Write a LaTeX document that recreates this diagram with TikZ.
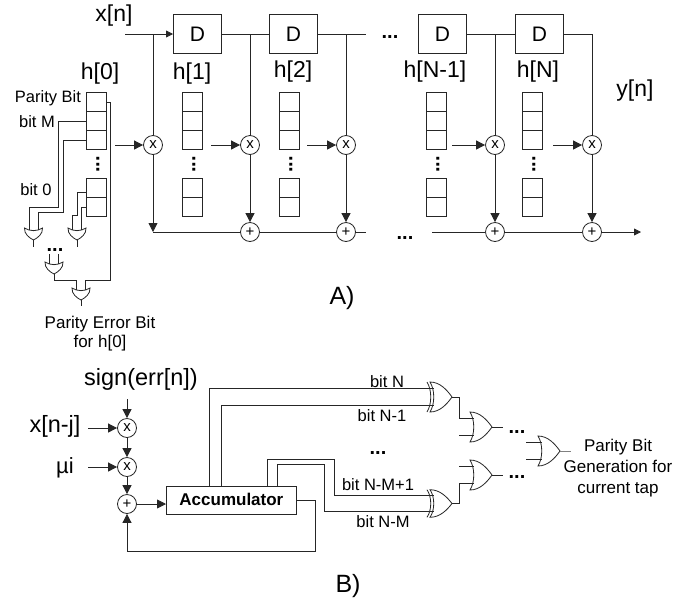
\documentclass[tikz,border=0pt]{standalone}
\usepackage{fontspec}
\setmainfont{Liberation Sans}
\usetikzlibrary{arrows.meta,calc}
\definecolor{ink}{gray}{0.15}
\newcommand{\fs}[1]{\fontsize{#1}{#1}\selectfont}
\tikzset{
  wire/.style={draw=ink,line width=0.8pt},
  arrowwire/.style={wire,-{Triangle[length=9pt,width=9pt]}},
  smallarrow/.style={wire,-{Triangle[length=7pt,width=7pt]}},
  delaybox/.style={draw=ink,line width=0.8pt,minimum width=48pt,minimum height=39pt,inner sep=0pt,font=\fs{21}},
  cell/.style={draw=ink,line width=0.8pt,minimum width=20pt,minimum height=19pt,inner sep=0pt},
  opnode/.style={draw=ink,line width=0.8pt,circle,minimum size=19pt,inner sep=0pt,font=\fs{15},fill=white},
  big/.style={inner sep=0pt,font=\fs{23}},
  mid/.style={inner sep=0pt,font=\fs{16.5}},
  midwide/.style={inner sep=0pt,font=\fs{17}},
  gate/.style={draw=ink,line width=0.8pt,fill=white},
  dotsmark/.style={inner sep=0pt,font=\fs{20}\bfseries},
}
% register: name, left x
\newcommand{\register}[2]{%
  \node[cell,anchor=north west] (#1-1) at (#2,92) {};
  \node[cell,anchor=north west] (#1-2) at (#2,111) {};
  \node[cell,anchor=north west] (#1-3) at (#2,130) {};
  \node[cell,anchor=north west] (#1-4) at (#2,178) {};
  \node[cell,anchor=north west] (#1-5) at (#2,197) {};
  \node[dotsmark,rotate=90] (#1-dots) at ($(#2,164.5)+(12,0)$) {...};
}
% OR gate pointing down: name, centre x, top y
\newcommand{\ordown}[3]{%
  \begin{scope}[shift={(#2,#3)}]
    \draw[gate] (-9,0) .. controls (-9.5,6) and (-4,10) .. (0,12) .. controls (4,10) and (9.5,6) .. (9,0) .. controls (4,3.5) and (-4,3.5) .. (-9,0) -- cycle;
    \coordinate (#1-a) at (-4.5,2.2);
    \coordinate (#1-b) at (4.5,2.2);
    \coordinate (#1-o) at (0,12);
  \end{scope}}
% OR gate pointing right: name, left x, centre y, yscale
\newcommand{\orright}[4]{%
  \begin{scope}[shift={(#2,#3)},yscale=#4]
    \draw[gate] (0,-15) .. controls (10,-15) and (17,-7) .. (22,0) .. controls (17,7) and (10,15) .. (0,15) .. controls (5,7) and (5,-7) .. (0,-15) -- cycle;
    \coordinate (#1-a) at (3.5,-8.5);
    \coordinate (#1-b) at (3.5,8.5);
    \coordinate (#1-o) at (22,0);
  \end{scope}}
\newcommand{\xorright}[4]{%
  \orright{#1}{#2}{#3}{#4}
  \begin{scope}[shift={(#2,#3)},yscale=#4]
    \draw[wire] (-3,-15) .. controls (2,-7) and (2,7) .. (-3,15);
  \end{scope}}
\begin{document}
\begin{tikzpicture}[x=1pt,y=-1pt]
\useasboundingbox (0,0) rectangle (695,600);
% ---- part A
\node[big] (xn) at (114,16) {x[n]};
\coordinate (xstart) at (125,34);
\node[delaybox,anchor=north west] (d1) at (173,14) {D};
\node[delaybox,anchor=north west] (d2) at (269,14) {D};
\node[delaybox,anchor=north west] (d3) at (418,14) {D};
\node[delaybox,anchor=north west] (d4) at (515,14) {D};
\node[dotsmark] (dtop) at (390,37) {...};
\node[dotsmark] (dbot) at (405,238) {...};
\coordinate (d2out) at (366,34);
\coordinate (sumin) at (432,232);
\coordinate (corner) at (592,34);
\coordinate (sumout) at (641,232);
\coordinate (sumstart) at (153,232);
\node[opnode] (m0) at (153,145) {x};
\node[opnode] (m1) at (250,145) {x};
\node[opnode] (m2) at (346,145) {x};
\node[opnode] (m3) at (495,145) {x};
\node[opnode] (m4) at (592,145) {x};
\node[opnode] (a1) at (250,232) {+};
\node[opnode] (a2) at (346,232) {+};
\node[opnode] (a3) at (495,232) {+};
\node[opnode] (a4) at (592,232) {+};
\coordinate (sumend) at (366,232);
\draw[smallarrow] (xstart) -- (d1.west |- xstart);
\draw[wire] (d1.east |- xstart) -- (d2.west |- xstart);
\draw[wire] (d2.east |- xstart) -- (d2out);
\draw[wire] (d3.east |- xstart) -- (d4.west |- xstart);
\draw[wire] (d4.east |- xstart) -- (corner) -- (m4.north);
\draw[wire] (m0.north |- xstart) -- (m0.north);
\draw[wire] (m1.north |- xstart) -- (m1.north);
\draw[wire] (m2.north |- xstart) -- (m2.north);
\draw[wire] (m3.north |- xstart) -- (m3.north);
\draw[arrowwire] (m0.south) -- (sumstart);
\draw[arrowwire] (m1.south) -- (a1.north);
\draw[arrowwire] (m2.south) -- (a2.north);
\draw[arrowwire] (m3.south) -- (a3.north);
\draw[arrowwire] (m4.south) -- (a4.north);
\draw[wire] (sumstart) -- (a1.west);
\draw[wire] (a1.east) -- (a2.west);
\draw[wire] (a2.east) -- (sumend);
\draw[wire] (sumin) -- (a3.west);
\draw[wire] (a3.east) -- (a4.west);
\draw[smallarrow] (a4.east) -- (sumout);
% registers
\register{r0}{86}
\register{r1}{182}
\register{r2}{279}
\register{r3}{426}
\register{r4}{522}
\node[big] (h0) at (100,74) {h[0]};
\node[big] (h1) at (192,74) {h[1]};
\node[big] (h2) at (293,72) {h[2]};
\node[big] (h3) at (435,72) {h[N-1]};
\node[big] (h4) at (538,72) {h[N]};
\node[big] (yn) at (635,91) {y[n]};
\coordinate (s0) at (115,145);
\coordinate (s1) at (211,145);
\coordinate (s2) at (307,145);
\coordinate (s3) at (452,145);
\coordinate (s4) at (553,145);
\draw[arrowwire] (s0) -- (m0.west);
\draw[arrowwire] (s1) -- (m1.west);
\draw[arrowwire] (s2) -- (m2.west);
\draw[arrowwire] (s3) -- (m3.west);
\draw[arrowwire] (s4) -- (m4.west);
% parity tree for h[0]
\node[mid] (pb) at (48,98) {Parity Bit};
\node[mid] (bm) at (37,122) {bit M};
\node[mid] (b0) at (36,190) {bit 0};
\ordown{g1}{33.5}{228}
\ordown{g2}{77}{228}
\ordown{g3}{54}{262}
\ordown{g4}{81}{288}
\node[dotsmark] (gd) at (55,250) {...};
\coordinate (c1a) at (58,207);
\coordinate (c1b) at (63,212);
\coordinate (c2a) at (77,215);
\coordinate (p1) at (110,280);
\coordinate (j1) at (54,280);
\coordinate (t1) at (49,254);
\coordinate (t2) at (58,254);
\coordinate (g1s) at (33.5,247);
\coordinate (g2s) at (77,247);
\coordinate (g4s) at (81,306);
\draw[wire] (r0-2.west) -| (c1a) -| (g1-a);
\draw[wire] (r0-3.west) -| (c1b) -| (g1-b);
\draw[wire] ([yshift=-4.5pt]r0-4.west) -| (c2a) -| (g2-a);
\draw[wire] (r0-5.west) -| (g2-b);
\draw[wire] (g1-o) -- (g1s);
\draw[wire] (g2-o) -- (g2s);
\draw[wire] (t1) -- (t1 |- g3-a);
\draw[wire] (t2) -- (t2 |- g3-b);
\draw[wire] (g3-o) -- (j1) -| (g4-a);
\draw[wire] (r0-1.east) -| (p1) -| (g4-b);
\draw[wire] (g4-o) -- (g4s);
\node[midwide,align=center] (perr) at (100,333.5) {Parity Error Bit\\[2pt]for h[0]};
\node[inner sep=0pt,font=\fs{25}] (la) at (342,298) {A)};
% ---- part B
\node[inner sep=0pt,font=\fs{23.5}] (sgn) at (141,379) {sign(err[n])};
\node[inner sep=0pt,font=\fs{23.5}] (xj) at (55,426) {x[n-j]};
\node[inner sep=0pt,font=\fs{22}] (mu) at (65,468) {µi};
\node[opnode] (bm1) at (127,428) {x};
\node[opnode] (bm2) at (127,467) {x};
\node[opnode] (ba) at (127,504) {+};
\node[draw=ink,line width=0.8pt,minimum width=130pt,minimum height=28pt,inner sep=0pt,anchor=north west,font=\fs{17}\bfseries] (acc) at (166,486) {\raisebox{2pt}{Accumulator}};
\coordinate (sg) at (127,399);
\coordinate (xa) at (88,428);
\coordinate (ma) at (88,467);
\coordinate (fb1) at (315,551);
\coordinate (fb2) at (127,551);
\draw[arrowwire] (sg) -- (bm1.north);
\draw[arrowwire] (xa) -- (bm1.west);
\draw[arrowwire] (ma) -- (bm2.west);
\draw[arrowwire] (bm1.south) -- (bm2.north);
\draw[arrowwire] (bm2.south) -- (ba.north);
\draw[arrowwire] (ba.east) -- (acc.west |- ba.east);
\draw[arrowwire] (acc.east) -| (fb1) -- (fb2) -- (ba.south);
\xorright{x1}{430}{397}{1}
\xorright{x2}{430}{503.5}{0.92}
\orright{o1}{470}{427}{1}
\orright{o2}{470}{475}{1}
\orright{o3}{538}{451}{1}
\coordinate (w1) at (334,459);
\coordinate (w2) at (324,464);
\draw[wire] ([xshift=-22pt]acc.north) |- (x1-a);
\draw[wire] ([xshift=-10pt]acc.north) |- (x1-b);
\draw[wire] ([xshift=36pt]acc.north) |- (w1) |- (x2-a);
\draw[wire] ([xshift=46pt]acc.north) |- (w2) |- (x2-b);
\coordinate (i1) at (459,435.5);
\coordinate (i2) at (459,466.5);
\draw[wire] (x1-o) -| ($(i1)+(0,-17)$) -- (o1-a);
\draw[wire] (i1) -- (o1-b);
\draw[wire] (i2) -- (o2-a);
\draw[wire] (x2-o) -| ($(i2)+(0,17)$) -- (o2-b);
\coordinate (e1) at (503,427);
\coordinate (e2) at (503,475);
\coordinate (e3) at (526,442.5);
\coordinate (e4) at (526,459.5);
\coordinate (e5) at (571,451);
\draw[wire] (o1-o) -- (e1);
\draw[wire] (o2-o) -- (e2);
\draw[wire] (e3) -- (o3-a);
\draw[wire] (e4) -- (o3-b);
\draw[wire,draw=gray] (o3-o) -- (e5);
\node[dotsmark] (bd1) at (517,432) {...};
\node[dotsmark] (bd2) at (517,477) {...};
\node[dotsmark] (bd3) at (378,453) {...};
\node[mid] (ln) at (387,382) {bit N};
\node[mid] (ln1) at (382,416) {bit N-1};
\node[mid] (lnm1) at (378,485) {bit N-M+1};
\node[mid] (lnm) at (383,522) {bit N-M};
\node[midwide,align=center] (pgen) at (618,468) {Parity Bit\\[4pt]Generation for\\[4pt]current tap};
\node[inner sep=0pt,font=\fs{25}] (lb) at (348,586) {B)};
\end{tikzpicture}
\end{document}
